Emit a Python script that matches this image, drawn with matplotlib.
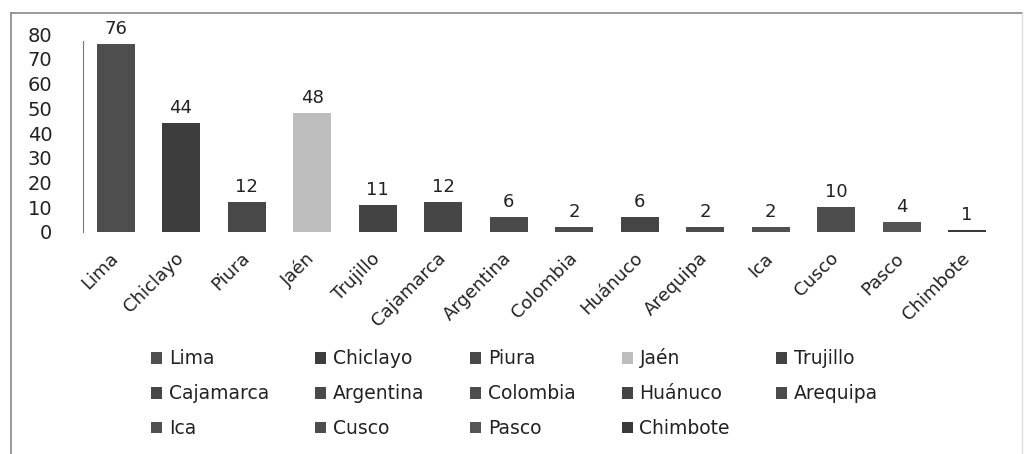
import matplotlib
matplotlib.use("Agg")
from matplotlib import pyplot as plt
from matplotlib.patches import Patch
from matplotlib.lines import Line2D

# Datos
ciudades = ["Lima", "Chiclayo", "Piura", "Jaén", "Trujillo", "Cajamarca", "Argentina",
            "Colombia", "Huánuco", "Arequipa", "Ica", "Cusco", "Pasco", "Chimbote"]
cantidades = [76, 44, 12, 48, 11, 12, 6, 2, 6, 2, 2, 10, 4, 1]
colores = ["#4e4e4e", "#3d3d3d", "#484848", "#bdbdbd", "#434343", "#464646", "#4a4a4a",
           "#4c4c4c", "#454545", "#4b4b4b", "#505050", "#4d4d4d", "#555555", "#3a3a3a"]
yticks = [0, 10, 20, 30, 40, 50, 60, 70, 80]

plt.rcParams['font.family'] = ['DejaVu Sans']

fig = plt.figure(figsize=(10.35, 4.54), dpi=100)
ax = fig.add_axes([0.080, 0.489, 0.886, 0.436])

x = list(range(len(ciudades)))
barras = ax.bar(x, cantidades, width=0.58, color=colores)

for xi, v in zip(x, cantidades):
    ax.text(xi, v + 2.4, str(v), ha='center', va='bottom', fontsize=13, color='#222222')

ax.set_ylim(0, 80)
ax.set_xlim(-0.5, len(ciudades) - 0.5)
ax.set_yticks(yticks)
ax.set_xticks(x)
ax.set_xticklabels(ciudades, rotation=45, ha='right', va='center', rotation_mode='anchor')
ax.tick_params(axis='y', length=0, pad=22, labelsize=14, labelcolor='#222222')
ax.tick_params(axis='x', length=0, pad=17, labelsize=13, labelcolor='#222222')

for s in ['top', 'right', 'bottom']:
    ax.spines[s].set_visible(False)
ax.spines['left'].set_color('#777777')
ax.spines['left'].set_bounds(0, 77)

# Leyenda (orden por filas)
handles = [Patch(facecolor=c, edgecolor='none') for c in colores]
orden = []
for c in range(5):
    for r in range(3):
        i = r * 5 + c
        if i < len(ciudades):
            orden.append(i)
fig.legend([handles[i] for i in orden], [ciudades[i] for i in orden],
           ncol=5, loc='center', bbox_to_anchor=(0.497, 0.134), frameon=False,
           fontsize=13.5, handlelength=0.6, handleheight=0.6, handletextpad=0.35,
           columnspacing=2.45, labelspacing=0.85, labelcolor='#222222')

# Marco exterior
fig.add_artist(Line2D([0.011, 0.987], [0.971, 0.971], transform=fig.transFigure,
                      color='#888888', lw=1.2))
fig.add_artist(Line2D([0.011, 0.011], [0.0, 0.971], transform=fig.transFigure,
                      color='#888888', lw=1.2))
fig.add_artist(Line2D([0.987, 0.987], [0.0, 0.971], transform=fig.transFigure,
                      color='#dddddd', lw=1.0))

fig.savefig("out.png", dpi=100)
